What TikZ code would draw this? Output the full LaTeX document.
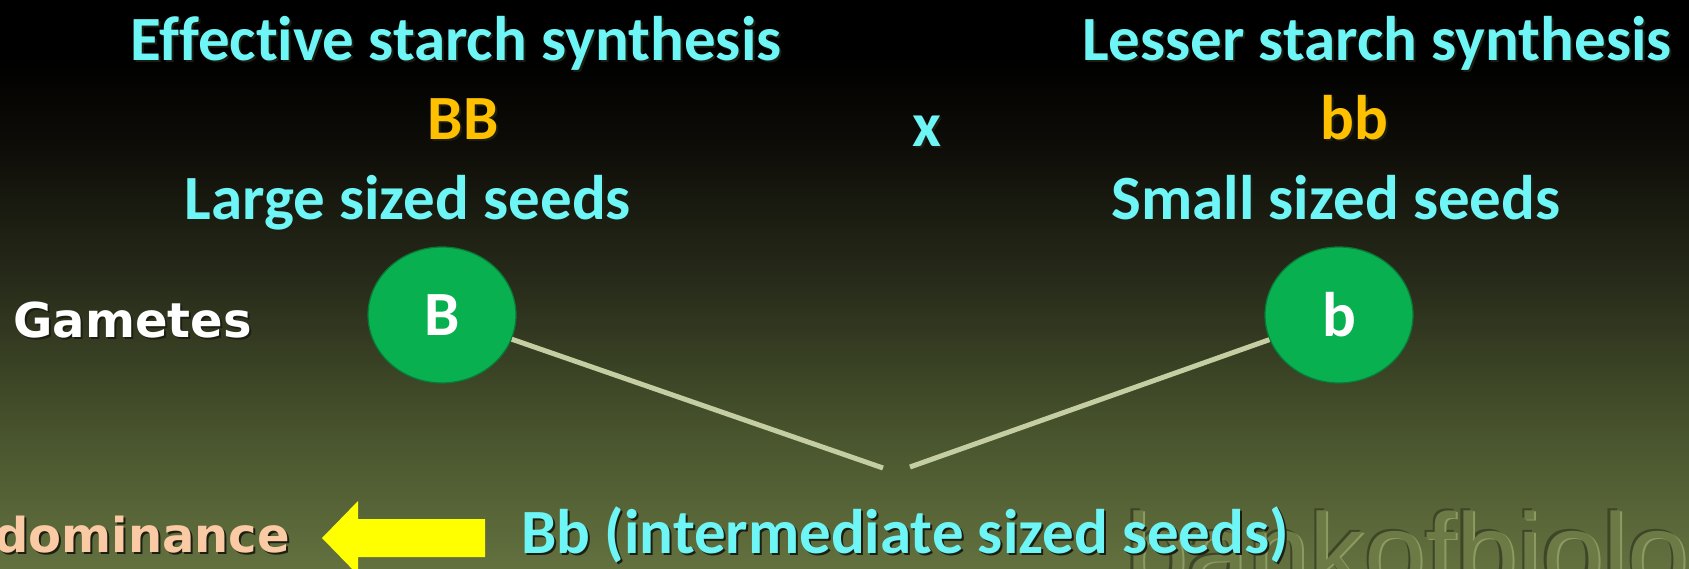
\documentclass[tikz,border=0pt]{standalone}
\usepackage{fontspec}
\setmainfont{Carlito}[Ligatures=NoCommon]
\newfontfamily\tahfont{DejaVu Sans}
\newfontfamily\wmfont{Liberation Sans}
\usetikzlibrary{shapes.geometric}
\definecolor{cyant}{RGB}{110,245,245}
\definecolor{oranget}{RGB}{255,192,0}
\definecolor{peacht}{RGB}{250,202,165}
\definecolor{shadowc}{RGB}{28,30,18}
\definecolor{gamgreen}{RGB}{8,176,80}
\definecolor{gamedge}{RGB}{10,120,55}
\definecolor{linec}{RGB}{196,206,162}
\definecolor{arrowy}{RGB}{255,255,0}
\definecolor{bga}{RGB}{14,13,8}
\definecolor{bgb}{RGB}{40,44,26}
\definecolor{bgc}{RGB}{72,84,45}
\definecolor{bgd}{RGB}{99,113,63}
\definecolor{wmdark}{RGB}{62,70,40}
\definecolor{wmlight}{RGB}{140,155,98}
\definecolor{wmmid}{RGB}{108,122,70}
\pgfdeclareverticalshading{bgshade}{100bp}{color(0bp)=(bgd); color(25bp)=(bgd); color(37bp)=(bgc); color(50bp)=(bgb); color(62bp)=(bga); color(70bp)=(black); color(100bp)=(black)}
\newcommand\shd[1]{\makebox[0pt][l]{\kern2pt\raisebox{-2pt}{\color{shadowc}#1}}#1}
\begin{document}
\begin{tikzpicture}[x=1pt,y=1pt,
  lbl/.style={anchor=base, inner sep=0pt, font=\fontsize{63}{70}\selectfont\bfseries},
  side/.style={inner sep=0pt, font=\fontsize{48}{56}\selectfont\tahfont\bfseries},
  gam/.style={ellipse, minimum width=148pt, minimum height=136pt, inner sep=0pt,
    fill=gamgreen, draw=gamedge, line width=1.2pt, text=white,
    font=\fontsize{63}{70}\selectfont\bfseries},
  gline/.style={draw=linec, line width=5pt}]
\useasboundingbox (0,0) rectangle (1689,-569);
\shade[shading=bgshade] (0,0) rectangle (1689,-569);
\begin{scope}
\clip (0,0) rectangle (1689,-569);
% watermark
\node[anchor=base west, inner sep=0pt, font=\fontsize{110}{116}\selectfont\wmfont] (wm) at (1126,-590)
  {\makebox[0pt][l]{\kern-2.5pt\raisebox{1.5pt}{\color{wmdark}bankofbiology}}%
   \makebox[0pt][l]{\kern2pt\raisebox{-1pt}{\color{wmlight}bankofbiology}}%
   \color{wmmid}bankofbiology};
% yellow arrow
\fill[arrowy] (322,-538) -- (358,-501) -- (358,-519) -- (485,-519) -- (485,-557)
  -- (358,-557) -- (358,-575) -- cycle;
\end{scope}
% top row
\node[lbl, text=cyant] (eff) at (456,-61) {\shd{Effective starch synthesis}};
\node[lbl, text=oranget] (BB) at (463,-140) {\shd{BB}};
\node[lbl, text=cyant] (large) at (408,-220) {\shd{Large sized seeds}};
\node[lbl, text=cyant] (cross) at (927,-147) {\shd{x}};
\node[lbl, text=cyant] (less) at (1377,-61) {\shd{Lesser starch synthesis}};
\node[lbl, text=oranget] (bb) at (1354,-140) {\shd{bb}};
\node[lbl, text=cyant] (small) at (1336,-220) {\shd{Small sized seeds}};
% gametes
\node[side, anchor=base west, text=white] (gametes) at (13,-337) {\shd{Gametes}};
\node[gam] (B) at (442,-315) {B};
\node[gam] (b) at (1339,-315) {b};
\coordinate (m1) at (883,-468);
\coordinate (m2) at (910,-467);
\draw[gline] (B) -- (m1);
\draw[gline] (m2) -- (b);
% bottom row
\node[side, anchor=base east, text=peacht] (dom) at (290,-552) {\shd{dominance}};
\node[lbl, anchor=base west, text=cyant] (Bb) at (521,-553) {\shd{Bb (intermediate sized seeds)}};
\end{tikzpicture}
\end{document}
